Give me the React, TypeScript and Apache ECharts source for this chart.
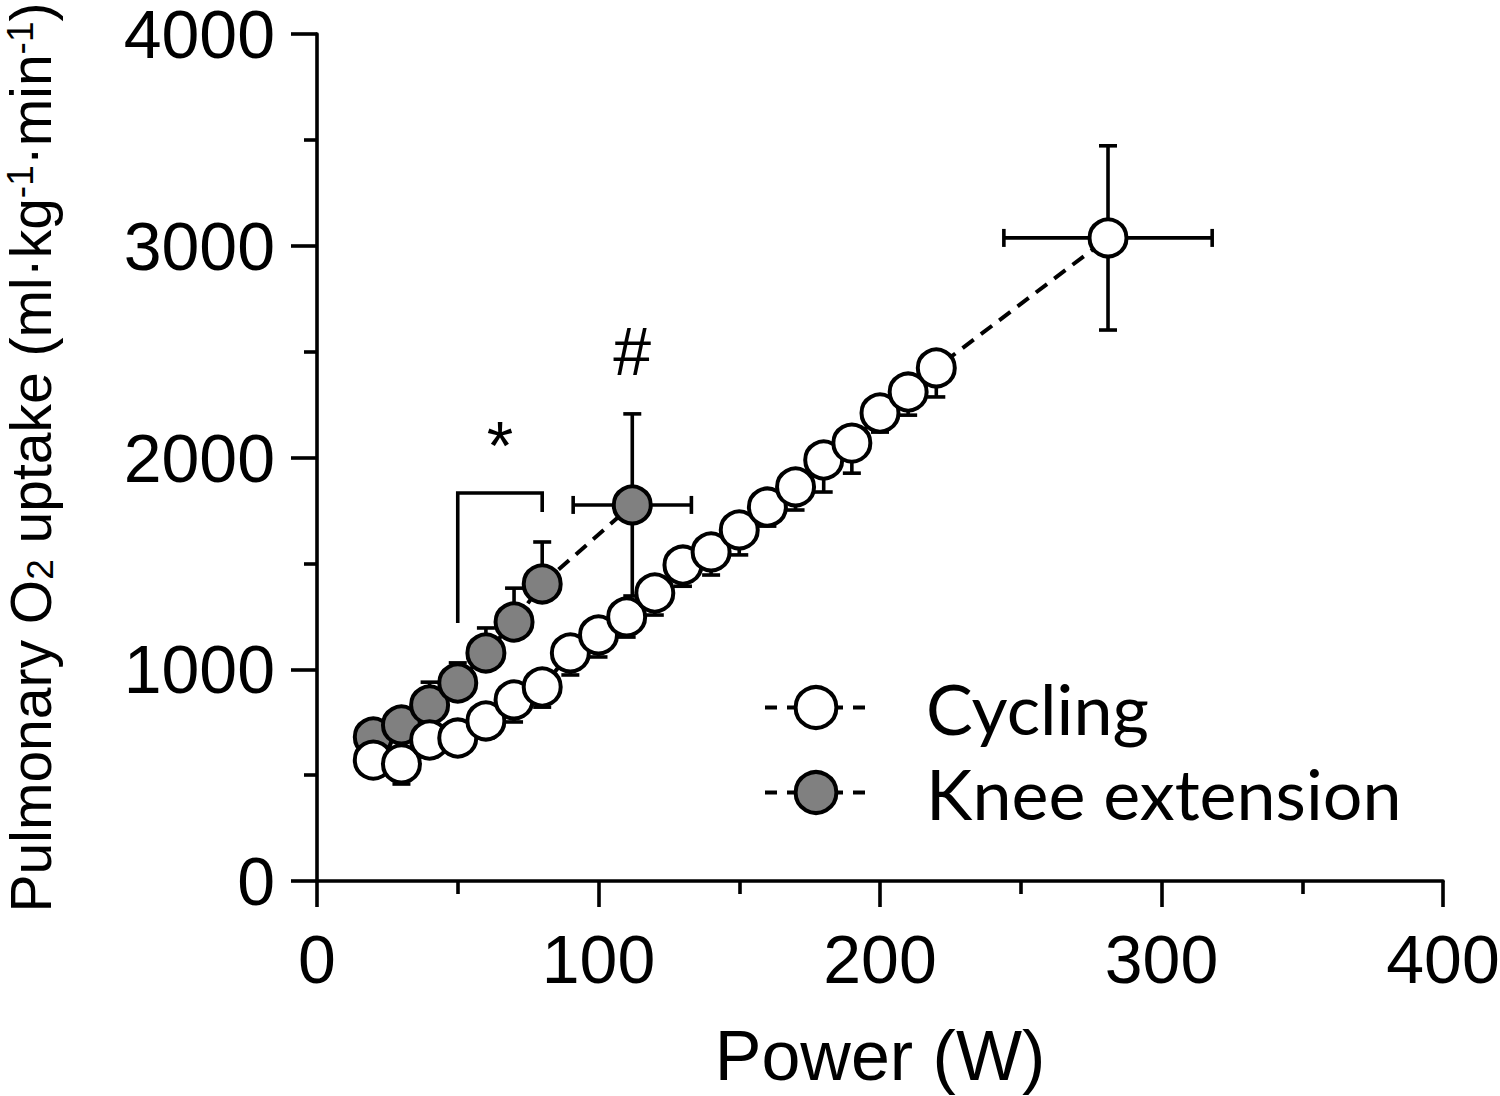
import React, { useEffect, useRef } from "react";
import * as echarts from "echarts";

// ---- Data ----
const xTicks = [0, 100, 200, 300, 400];
const yTicks = [0, 1000, 2000, 3000, 4000];

const cyclingPower = [20, 30, 40, 50, 60, 70, 80, 90, 100, 110, 120, 130, 140, 150, 160, 170, 180, 190, 200, 210, 220, 281];
const cyclingVO2 = [571, 553, 666, 675, 756, 855, 916, 1077, 1162, 1247, 1360, 1492, 1554, 1658, 1766, 1861, 1988, 2068, 2210, 2309, 2423, 3037];
const cyclingErrDown = [70, 95, 80, 75, 80, 104, 95, 104, 104, 95, 104, 100, 109, 118, 90, 109, 151, 142, 90, 109, 137, 435];
const cyclingErrUp = [0, 0, 0, 0, 0, 0, 0, 0, 0, 0, 0, 0, 0, 0, 0, 0, 0, 0, 0, 0, 0, 435];
const cyclingPowerErr = [0, 0, 0, 0, 0, 0, 0, 0, 0, 0, 0, 0, 0, 0, 0, 0, 0, 0, 0, 0, 0, 37];

const kneePower = [20, 30, 40, 50, 60, 70, 80, 112];
const kneeVO2 = [680, 737, 831, 935, 1077, 1223, 1403, 1776];
const kneeErrUp = [60, 70, 108, 95, 118, 160, 198, 430];
const kneeErrDown = [0, 0, 0, 0, 0, 0, 0, 430];
const kneePowerErr = [0, 0, 0, 0, 0, 0, 0, 21];

// significance bracket (power, VO2) vertices
const bracketPower = [50, 50, 80, 80];
const bracketVO2 = [1218, 1832, 1832, 1743];
const annotationLabels = ["*", "#"];
const annotationPower = [65, 112];
const annotationVO2 = [2057, 2503];

const FONT = "Liberation Sans, Arial, sans-serif";

function errorBarSeries(name: string, px: number[], py: number[], up: number[], down: number[], xe: number[], z: number) {
  return {
    type: "custom",
    name: name + "-err",
    z,
    silent: true,
    data: px.map((p, i) => [p, py[i], up[i], down[i], xe[i]]),
    renderItem: (params: any, api: any) => {
      const x = api.value(0);
      const y = api.value(1);
      const u = api.value(2);
      const d = api.value(3);
      const e = api.value(4);
      const cap = 9;
      const style = { stroke: "#000", lineWidth: 3.6 };
      const children: any[] = [];
      const c = api.coord([x, y]);
      const vline = (target: number) => {
        const p = api.coord([x, target]);
        children.push({ type: "line", shape: { x1: c[0], y1: c[1], x2: p[0], y2: p[1] }, style });
        children.push({ type: "line", shape: { x1: p[0] - cap, y1: p[1], x2: p[0] + cap, y2: p[1] }, style });
      };
      const hline = (target: number) => {
        const p = api.coord([target, y]);
        children.push({ type: "line", shape: { x1: c[0], y1: c[1], x2: p[0], y2: p[1] }, style });
        children.push({ type: "line", shape: { x1: p[0], y1: p[1] - cap, x2: p[0], y2: p[1] + cap }, style });
      };
      if (u > 0) vline(y + u);
      if (d > 0) vline(y - d);
      if (e > 0) {
        hline(x + e);
        hline(x - e);
      }
      return { type: "group", children };
    },
  };
}

export default function App() {
  const ref = useRef<HTMLDivElement>(null);
  useEffect(() => {
    if (!ref.current) return;
    const chart = echarts.init(ref.current, undefined, { renderer: "svg" });
    const axisCommon = {
      axisLine: { show: true, onZero: false, lineStyle: { color: "#000", width: 3.6 } },
      axisTick: { show: true, inside: false, length: 26, lineStyle: { color: "#000", width: 3.6 } },
      minorTick: { show: true, splitNumber: 2, length: 13, lineStyle: { color: "#000", width: 3.6 } },
      splitLine: { show: false },
      minorSplitLine: { show: false },
    };
    const option: any = {
      animation: false,
      backgroundColor: "#fff",
      grid: { left: 317, right: 57, top: 34, bottom: 215, containLabel: false, outerBoundsMode: "none" },
      legend: {
        orient: "vertical",
        left: 758,
        top: 660,
        itemWidth: 102,
        itemHeight: 51,
        itemGap: 0,
        selectedMode: false,
        data: ["Cycling", "Knee extension"],
        lineStyle: { width: 4, type: [12, 10], color: "#000" },
        itemStyle: { borderWidth: 4, borderColor: "#000" },
        textStyle: { fontFamily: "Lato, sans-serif", fontSize: 70, color: "#000", lineHeight: 85, padding: [0, 0, 0, 54] },
      },
      xAxis: {
        type: "value",
        min: xTicks[0],
        max: xTicks[xTicks.length - 1],
        interval: xTicks[1] - xTicks[0],
        ...axisCommon,
        axisLabel: { color: "#000", fontFamily: FONT, fontSize: 68, margin: 44, formatter: (v: number) => String(v) },
        name: "Power (W)",
        nameLocation: "middle",
        nameGap: 140,
        nameTextStyle: { color: "#000", fontFamily: FONT, fontSize: 70 },
      },
      yAxis: {
        type: "value",
        min: yTicks[0],
        max: yTicks[yTicks.length - 1],
        interval: yTicks[1] - yTicks[0],
        ...axisCommon,
        axisLabel: { color: "#000", fontFamily: FONT, fontSize: 68, margin: 42, formatter: (v: number) => String(v) },
        name: "Pulmonary O{sub|2} uptake (ml·kg{sup|-1}·min{sup|-1})",
        nameLocation: "middle",
        nameGap: 258,
        nameRotate: 90,
        nameTextStyle: {
          color: "#000",
          fontFamily: FONT,
          fontSize: 57,
          rich: {
            sub: { fontFamily: FONT, fontSize: 37, color: "#000", verticalAlign: "bottom", padding: [20, 0, 0, 0] },
            sup: { fontFamily: FONT, fontSize: 37, color: "#000", verticalAlign: "top" },
          },
        },
      },
      series: [
        errorBarSeries("Knee extension", kneePower, kneeVO2, kneeErrUp, kneeErrDown, kneePowerErr, 1),
        {
          type: "line",
          name: "Knee extension",
          z: 2,
          data: kneePower.map((p, i) => [p, kneeVO2[i]]),
          symbol: "circle",
          symbolSize: 37,
          showSymbol: true,
          itemStyle: { color: "#808080", borderColor: "#000", borderWidth: 4, opacity: 1 },
          lineStyle: { color: "#000", width: 4, type: [14, 9] },
          emphasis: { disabled: true },
        },
        errorBarSeries("Cycling", cyclingPower, cyclingVO2, cyclingErrUp, cyclingErrDown, cyclingPowerErr, 3),
        {
          type: "line",
          name: "Cycling",
          z: 4,
          data: cyclingPower.map((p, i) => [p, cyclingVO2[i]]),
          symbol: "circle",
          symbolSize: 37,
          showSymbol: true,
          itemStyle: { color: "#fff", borderColor: "#000", borderWidth: 4, opacity: 1 },
          lineStyle: { color: "#000", width: 4, type: [14, 9] },
          emphasis: { disabled: true },
        },
        {
          type: "custom",
          name: "bracket",
          z: 5,
          silent: true,
          data: [[bracketPower[0], bracketVO2[0]]],
          renderItem: (params: any, api: any) => {
            const points = bracketPower.map((p, i) => api.coord([p, bracketVO2[i]]));
            return { type: "polyline", shape: { points }, style: { stroke: "#000", lineWidth: 3.6, fill: "none" } };
          },
        },
        {
          type: "custom",
          name: "annotations",
          z: 5,
          silent: true,
          data: annotationPower.map((p, i) => [p, annotationVO2[i]]),
          renderItem: (params: any, api: any) => {
            const c = api.coord([api.value(0), api.value(1)]);
            return {
              type: "text",
              x: c[0],
              y: c[1],
              style: {
                text: annotationLabels[params.dataIndex],
                fontFamily: FONT,
                fontSize: 68,
                fill: "#000",
                align: "center",
                verticalAlign: "middle",
              },
            };
          },
        },
      ],
    };
    chart.setOption(option);
    return () => chart.dispose();
  }, []);
  return <div ref={ref} style={{ position: "absolute", left: 0, top: 0, width: 1500, height: 1096 }} />;
}
